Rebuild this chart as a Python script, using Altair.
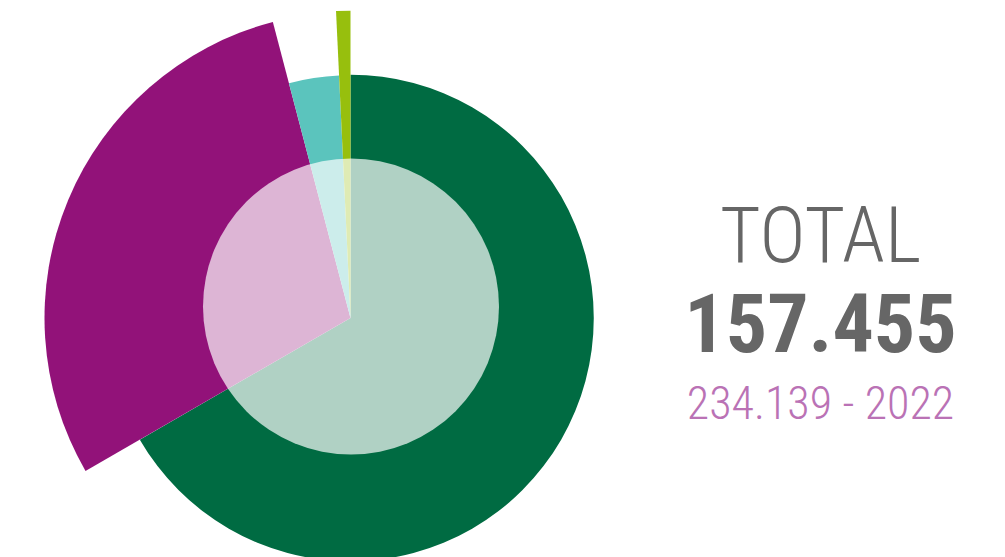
import altair as alt
import pandas as pd

# Data
categories = ["A", "B", "C", "D"]
values = [104970, 46056, 5248, 1181]          # slice sizes (sum = 157.455)
radius_values = [79.5, 100.0, 79.3, 100.4]     # relative radius of each slice
colors = ["#006B42", "#921279", "#5BC4BD", "#97BF0D"]

title_text = "TOTAL"
total_text = "157.455"
sub_text = "234.139 - 2022"

df = pd.DataFrame({
    "cat": categories,
    "value": values,
    "r": radius_values,
    "idx": list(range(len(categories))),
})

W, H = 989, 549
CX, CY = 342.5, 310

arcs = alt.Chart(df).transform_joinaggregate(
    total="sum(value)"
).transform_window(
    cum="sum(value)", sort=[alt.SortField("idx", order="ascending")], frame=[None, 0]
).transform_calculate(
    end="datum.cum / datum.total",
    start="(datum.cum - datum.value) / datum.total",
).mark_arc().encode(
    theta=alt.Theta("start:Q", scale=alt.Scale(domain=[0, 1], range=[0, 6.283185307179586])),
    theta2="end:Q",
    radius=alt.Radius("r:Q", stack=False, scale=alt.Scale(type="linear", domain=[0, 100], range=[0, 306])),
    color=alt.Color("cat:N", scale=alt.Scale(domain=categories, range=colors), legend=None),
    x=alt.value(CX),
    y=alt.value(CY),
)

overlay = alt.Chart(pd.DataFrame({"k": [0]})).mark_arc(
    color="white", opacity=0.69, theta=0, theta2=6.2832, radius=148
).encode(x=alt.value(343), y=alt.value(298.5))

FONT = "Roboto Condensed, Roboto, sans-serif"
t1 = alt.Chart(pd.DataFrame({"t": [title_text]})).mark_text(
    font=FONT, fontSize=78, fontWeight=300,
    color="#666666", align="center", baseline="alphabetic"
).encode(text="t:N", x=alt.value(812.5), y=alt.value(254))

t2 = alt.Chart(pd.DataFrame({"t": [total_text]})).mark_text(
    font=FONT, fontSize=82, fontWeight="bold",
    color="#666666", align="center", baseline="alphabetic"
).encode(text="t:N", x=alt.value(812.5), y=alt.value(344))

t3 = alt.Chart(pd.DataFrame({"t": [sub_text]})).mark_text(
    font=FONT, fontSize=46, fontWeight=300,
    color="#BA72B5", align="center", baseline="alphabetic"
).encode(text="t:N", x=alt.value(812.5), y=alt.value(411))

chart = alt.layer(arcs, overlay, t1, t2, t3).properties(
    width=W, height=H,
    autosize=alt.AutoSizeParams(type="none"),
    padding=0,
).configure_view(stroke=None)

chart.save("out.html", embed_options={"renderer": "svg", "actions": False})
